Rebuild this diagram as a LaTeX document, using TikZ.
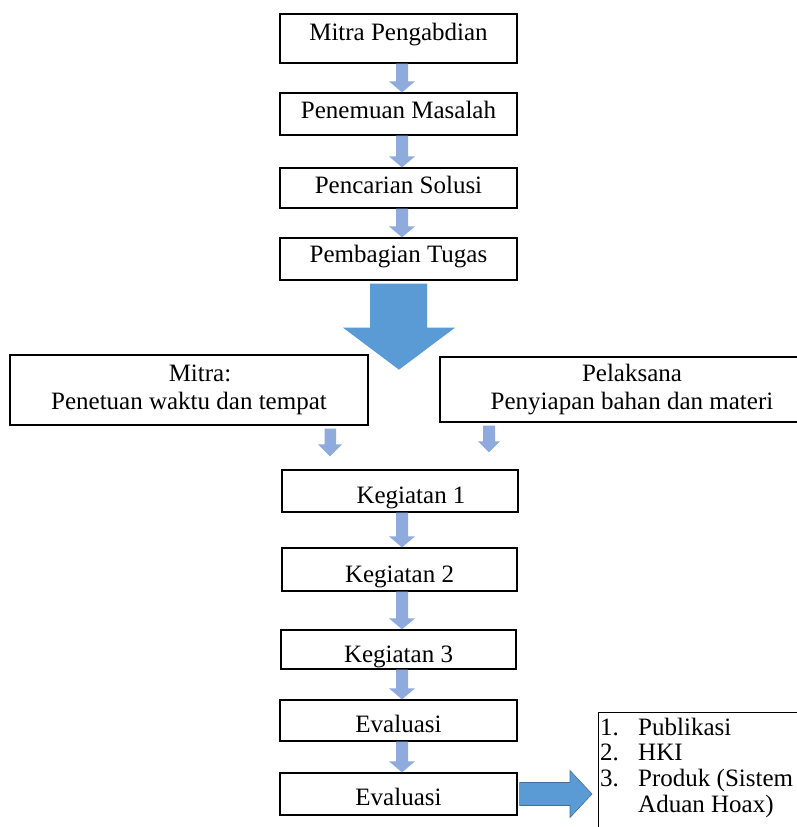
\documentclass[tikz,border=0pt]{standalone}
\usepackage{fontspec}
\setmainfont{Liberation Serif}
\usetikzlibrary{calc}
\definecolor{lightarr}{HTML}{8FAADC}
\definecolor{bigarr}{HTML}{5B9BD5}
\definecolor{bigedge}{HTML}{41719C}
\newcommand\bodyfont{\fontsize{25}{28}\selectfont}
\newcommand\listfont{\fontsize{25}{25.7}\selectfont}
% small down arrow between two stacked boxes, centred at x = 402
\newcommand\smalldown[2]{%
  \fill[smallarr] let \p1=(#1.south), \p2=(#2.north) in
    (396pt,\y1) -- (408pt,\y1) -- (408pt,\y2+11pt) -- (415pt,\y2+11pt) --
    (402pt,\y2) -- (389pt,\y2+11pt) -- (396pt,\y2+11pt) -- cycle;}
\begin{document}
\begin{tikzpicture}[x=1pt,y=-1pt,
  box/.style={draw, line width=1.3pt, inner xsep=0pt, inner ysep=0pt, font=\bodyfont},
  twobox/.style={draw, line width=1.3pt, inner sep=0pt, align=center, font=\bodyfont},
  smallarr/.style={fill=lightarr},
  bigarrow/.style={fill=bigarr}]
\fill[white] (0,0) rectangle (797,827);
\useasboundingbox (0,0) rectangle (797,827);
\clip (0,0) rectangle (797,827);

% top chain
\node[box, minimum width=237pt, text height=26pt, text depth=23pt] (B1) at (398.5,38.5) {Mitra Pengabdian};
\node[box, minimum width=237pt, text height=25pt, text depth=17pt] (B2) at (398.5,114) {Penemuan Masalah};
\node[box, minimum width=237pt, text height=25pt, text depth=15pt] (B3) at (398.5,188) {Pencarian Solusi};
\node[box, minimum width=237pt, text height=24pt, text depth=18pt] (B4) at (398.5,259) {Pembagian Tugas};

% two side boxes
\node[twobox, minimum width=358pt, minimum height=70pt] (L) at (189,390)
  {\hspace*{22pt}Mitra:\\Penetuan waktu dan tempat};
\node[twobox, minimum width=384pt, minimum height=65pt] (R) at (632,389.5)
  {Pelaksana\\Penyiapan bahan dan materi};

% activities
\node[box, minimum width=236pt, text height=33pt, text depth=9pt] (K1) at (400,491) {\hspace*{22pt}Kegiatan 1};
\node[box, minimum width=235pt, text height=34pt, text depth=9pt] (K2) at (399.5,569.5) {Kegiatan 2};
\node[box, minimum width=235pt, text height=32pt, text depth=7pt] (K3) at (398.5,649.5) {Kegiatan 3};
\node[box, minimum width=237pt, text height=32pt, text depth=9pt] (E1) at (398.5,720.5) {Evaluasi};
\node[box, minimum width=237pt, text height=32pt, text depth=10pt] (E2) at (398.5,794) {Evaluasi};

% output box
\node[draw, line width=1pt, anchor=north west, minimum width=240pt, minimum height=130pt, inner sep=0pt] (out) at (598,712) {};
\node[anchor=base west, inner sep=0pt, font=\listfont] (outtext) at (600,735)
  {\begin{tabular}[t]{@{}p{38pt}@{}l@{}}
   1. & Publikasi\\
   2. & HKI\\
   3. & Produk (Sistem\\
      & Aduan Hoax)
   \end{tabular}};

% small arrows
\smalldown{B1}{B2}
\smalldown{B2}{B3}
\smalldown{B3}{B4}
\smalldown{K1}{K2}
\smalldown{K2}{K3}
\smalldown{K3}{E1}
\smalldown{E1}{E2}

% big arrow below Pembagian Tugas
\fill[bigarrow] let \p1=(B4.south) in
  (370pt,\y1-3pt) -- (427pt,\y1-3pt) -- (427pt,\y1-47pt) -- (455pt,\y1-47pt) --
  (399pt,\y1-89pt) -- (343pt,\y1-47pt) -- (370pt,\y1-47pt) -- cycle;

% side arrows to Kegiatan 1
\fill[smallarr] let \p1=(L.south), \p2=(K1.north) in
  (324.5pt,\y1-3pt) -- (336pt,\y1-3pt) -- (336pt,\y2+25pt) -- (342pt,\y2+25pt) --
  (330pt,\y2+13pt) -- (318pt,\y2+25pt) -- (324.5pt,\y2+25pt) -- cycle;
\fill[smallarr] let \p1=(R.south), \p2=(K1.north) in
  (483pt,\y1-3pt) -- (495pt,\y1-3pt) -- (495pt,\y2+28pt) -- (500pt,\y2+28pt) --
  (489pt,\y2+17pt) -- (478pt,\y2+28pt) -- (483pt,\y2+28pt) -- cycle;

% right arrow to output
\fill[bigarrow, draw=bigedge, line width=0.6pt] let \p1=(E2.east), \p2=(out.west) in
  (\x1+2pt,\y1+11.5pt) -- (\x2-28pt,\y1+11.5pt) -- (\x2-28pt,\y1+23.5pt) --
  (\x2-6pt,\y1) -- (\x2-28pt,\y1-23.5pt) -- (\x2-28pt,\y1-11.5pt) --
  (\x1+2pt,\y1-11.5pt) -- cycle;
\end{tikzpicture}
\end{document}
